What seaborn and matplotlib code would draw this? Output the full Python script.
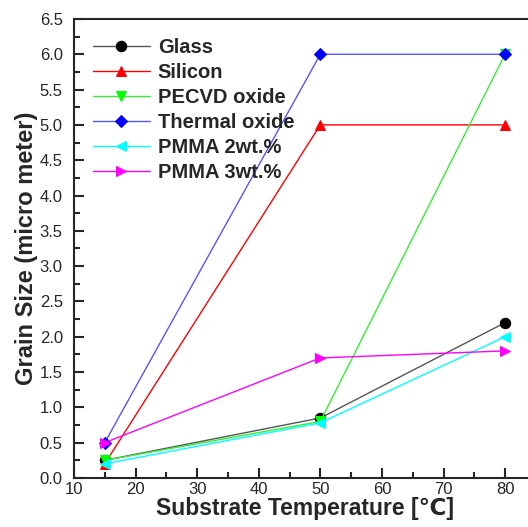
import pandas as pd
import matplotlib
matplotlib.use('Agg')
import matplotlib.pyplot as plt
import seaborn as sns
from matplotlib.ticker import MultipleLocator

# Substrate temperatures and grain sizes
temps = [15, 50, 80]
glass = [0.25, 0.85, 2.2]
silicon = [0.2, 5.0, 5.0]
pecvd = [0.25, 0.8, 6.0]
thermal = [0.5, 6.0, 6.0]
pmma2 = [0.2, 0.78, 2.0]
pmma3 = [0.5, 1.7, 1.8]

names = ['Glass', 'Silicon', 'PECVD oxide', 'Thermal oxide', 'PMMA 2wt.%', 'PMMA 3wt.%']
series = [glass, silicon, pecvd, thermal, pmma2, pmma3]
colors = ['black', 'red', '#00ff00', 'blue', 'cyan', 'magenta']
line_colors = ['#555555', 'red', '#33ee33', '#5555ff', 'cyan', 'magenta']
markers = ['o', '^', 'v', 'D', '<', '>']

# Long-format table for seaborn
rows = []
for name, vals in zip(names, series):
    for t, v in zip(temps, vals):
        rows.append({'temp': t, 'size': v, 'substrate': name})
df = pd.DataFrame(rows)

sns.set_style('ticks')
plt.rcParams['font.family'] = ['Liberation Sans', 'DejaVu Sans']

fig = plt.figure(figsize=(5.28, 5.27), dpi=100)
# Axes run a little past the right edge like the reference
ax = fig.add_axes([0.140, 0.093, 0.875, 0.871])

for name, col, lcol, mk in zip(names, colors, line_colors, markers):
    sub = df[df.substrate == name]
    sns.lineplot(data=sub, x='temp', y='size', ax=ax, color=lcol, lw=1,
                 marker=mk, markersize=7.5 if mk != 'D' else 6.5,
                 markerfacecolor=col, markeredgecolor=col, label=name)

ax.set_xlim(10, 85)
ax.set_ylim(0, 6.5)
ax.xaxis.set_major_locator(MultipleLocator(10))
ax.xaxis.set_minor_locator(MultipleLocator(5))
ax.yaxis.set_major_locator(MultipleLocator(0.5))
ax.yaxis.set_minor_locator(MultipleLocator(0.25))
ax.yaxis.set_major_formatter(matplotlib.ticker.FormatStrFormatter('%.1f'))

ax.tick_params(which='major', direction='in', length=7, width=1.5, labelsize=12, pad=8)
ax.tick_params(axis='x', which='major', pad=3)
ax.tick_params(which='minor', direction='in', length=4, width=1.5)
for s in ax.spines.values():
    s.set_linewidth(1.5)

ax.set_xlabel('Substrate Temperature [℃]', fontsize=16.5, fontweight='bold', labelpad=0)
ax.set_ylabel('Grain Size (micro meter)', fontsize=17, fontweight='bold', labelpad=1)

ax.legend(loc='upper left', frameon=False, prop={'weight': 'bold', 'size': 14.5},
          handlelength=2.8, handletextpad=0.4, labelspacing=0.3,
          bbox_to_anchor=(0.02, 0.98), borderaxespad=0.1)

fig.savefig('out.png', dpi=100)
